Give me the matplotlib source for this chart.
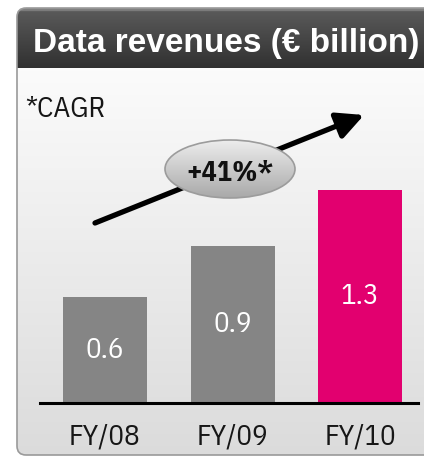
import numpy as np
import matplotlib
matplotlib.use("Agg")
import matplotlib.pyplot as plt
from matplotlib.patches import FancyBboxPatch, Ellipse, FancyArrowPatch
from matplotlib import font_manager as fm

# ---- data ----
categories = ["FY/08", "FY/09", "FY/10"]
revenues = [0.62, 0.92, 1.25]
value_labels = ["0.6", "0.9", "1.3"]
bar_colors = ["#858585", "#858585", "#e2006f"]
title = "Data revenues (€ billion)"
cagr_label = "+41%*"
footnote = "*CAGR"

W, H = 424, 458
fig = plt.figure(figsize=(W / 100, H / 100), dpi=100)
fig.patch.set_facecolor("white")

def has_font(name):
    try:
        fm.findfont(fm.FontProperties(family=name), fallback_to_default=False)
        return True
    except Exception:
        return False

cond = "IBM Plex Sans Condensed" if has_font("IBM Plex Sans Condensed") else "Roboto"
light_fam = [cond, "DejaVu Sans"]
title_fam = ["Liberation Sans", "DejaVu Sans"]

# ---- background panel (pixel coords) ----
bg = fig.add_axes([0, 0, 1, 1])
bg.set_xlim(0, W)
bg.set_ylim(H, 0)
bg.axis("off")

px0, py0, px1, py1 = 17, 8, 445, 455
panel = FancyBboxPatch((px0, py0), px1 - px0, py1 - py0,
                       boxstyle="round,pad=0,rounding_size=9",
                       facecolor="none", edgecolor="#9a9a9a", lw=1.2, zorder=3)
bg.add_patch(panel)

# body gradient
body = np.linspace(0.985, 0.86, 256).reshape(-1, 1)
im = bg.imshow(np.dstack([body] * 3), extent=(px0, px1, py1, 68),
               aspect="auto", zorder=1, interpolation="bilinear")
im.set_clip_path(panel)

# header gradient
hy = np.linspace(0, 1, 256)
hv = np.where(hy < 0.05, 0.50, 0.36 - 0.17 * hy)
hv = hv.reshape(-1, 1)
ih = bg.imshow(np.dstack([hv] * 3), extent=(px0, px1, 68, py0),
               aspect="auto", zorder=2, interpolation="bilinear")
ih.set_clip_path(panel)

bg.text(33, 52, title, color="white", fontsize=24, fontweight="bold",
        family=title_fam, va="baseline", ha="left", zorder=5)

bg.text(25, 117, footnote, color="#161616", fontsize=21, family=light_fam,
        va="baseline", ha="left", zorder=5)

# arrow
arr = FancyArrowPatch((95, 223), (364, 115), arrowstyle="-|>,head_length=9,head_width=4.5",
                      mutation_scale=1.8, lw=3.8, color="black", zorder=4,
                      shrinkA=0, shrinkB=0)
bg.add_patch(arr)

# ellipse with gradient
ell = Ellipse((230, 169), 130, 58, facecolor="none", edgecolor="#9c9c9c", lw=1.2, zorder=6)
bg.add_patch(ell)
eg = np.linspace(0.93, 0.66, 256).reshape(-1, 1)
ie = bg.imshow(np.dstack([eg] * 3), extent=(165, 295, 198, 140),
               aspect="auto", zorder=5, interpolation="bilinear")
ie.set_clip_path(ell)
bg.text(230, 181, cagr_label, color="#111111", fontsize=20.5, fontweight="bold",
        family=light_fam, va="baseline", ha="center", zorder=7)

# ---- bar axes ----
base_px = 402.7
top_px = 80
left_px, right_px = 40, 418
scale = 170.0  # px per unit
ppu_x = 127.5
ax = fig.add_axes([left_px / W, (H - base_px) / H, (right_px - left_px) / W,
                   (base_px - top_px) / H])
ax.patch.set_alpha(0)
ax.set_ylim(0, (base_px - top_px) / scale)
ax.set_xlim(-(105 - left_px) / ppu_x, (right_px - 105) / ppu_x)
x = np.arange(len(categories))
bars = ax.bar(x, revenues, width=84 / ppu_x, color=bar_colors, zorder=2)
for xi, v, lab in zip(x, revenues, value_labels):
    ax.text(xi, v / 2, lab, color="white", fontsize=21, family=light_fam,
            ha="center", va="center", zorder=3)
for s in ["top", "right", "left"]:
    ax.spines[s].set_visible(False)
ax.spines["bottom"].set_linewidth(2.2)
ax.spines["bottom"].set_color("black")
ax.set_yticks([])
ax.set_xticks(x)
ax.set_xticklabels(categories, fontsize=21, family=light_fam, color="#161616")
ax.tick_params(axis="x", length=0, pad=15)

fig.savefig("out.png", dpi=100)
